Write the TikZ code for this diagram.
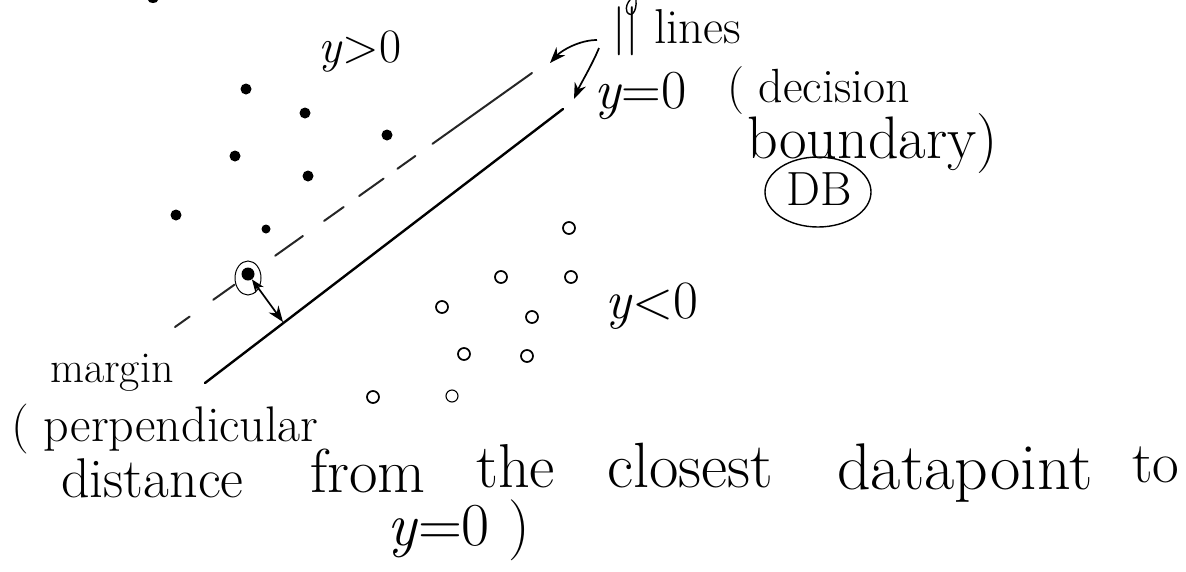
\documentclass[tikz,border=0pt]{standalone}
\usepackage{fontspec}
\usetikzlibrary{arrows.meta}
\begin{document}
\begin{tikzpicture}[x=1pt,y=-1pt,
  hand/.style={font=\fontsize{#1}{#1}\selectfont, inner sep=0pt, anchor=base west},
  hand/.default=50,
  posdot/.style={circle, fill=black, inner sep=0pt, minimum size=11pt},
  negdot/.style={ellipse, draw=black, line width=1.7pt, inner sep=0pt, minimum width=9pt, minimum height=12pt},
  boundary/.style={line width=2.4pt, line cap=round},
  marginline/.style={line width=2pt, black!85, line cap=round,
    dash pattern=on 18pt off 29pt on 26pt off 50pt on 34pt off 26pt on 24pt off 19pt on 30pt off 17pt on 22pt off 21pt on 124pt},
  pointer/.style={line width=1.7pt, -{Stealth[length=16pt,width=12pt]}},
  twoway/.style={line width=1.7pt, {Stealth[length=13pt,width=10pt]}-{Stealth[length=16pt,width=12pt]}}
]
\useasboundingbox (0,0) rectangle (1186,571);
\pgfdeclareshape{ellipse}{\inheritsavedanchors[from=circle]\inheritanchorborder[from=circle]\inheritanchor[from=circle]{center}\inheritbackgroundpath[from=circle]}

% cut-off strokes at the top edge
\fill (153,0) ellipse [x radius=5pt, y radius=3pt];
\draw[line width=1.4pt] (636,0) .. controls (637,12) and (631,18) .. (627,12) .. controls (625,7) and (628,2) .. (630,0);

% lines
\coordinate (solidA) at (205,383);
\coordinate (solidB) at (563,109);
\coordinate (dashA) at (175,327);
\coordinate (dashB) at (532,73);
\draw[boundary] (solidA) -- (solidB);
\draw[marginline] (dashA) -- (dashB);

% positive points
\node[posdot] (p1) at (246,89) {};
\node[posdot] (p2) at (305,113) {};
\node[posdot] (p3) at (387,135) {};
\node[posdot] (p4) at (235,156) {};
\node[posdot] (p5) at (308,176) {};
\node[posdot] (p6) at (176,215) {};
\node[posdot, minimum size=9pt] (p7) at (266,229) {};

% closest point
\node[posdot, minimum size=13pt] (cp) at (248,274) {};
\draw[line width=1pt] (248,278) ellipse [x radius=13pt, y radius=17pt];
\coordinate (foot) at (283,322);
\draw[twoway] (cp) -- (foot);

% negative points
\node[negdot] (n1) at (569,228) {};
\node[negdot] (n2) at (501,277) {};
\node[negdot] (n3) at (571,277) {};
\node[negdot] (n4) at (442,307) {};
\node[negdot] (n5) at (532,317) {};
\node[negdot] (n6) at (464,354) {};
\node[negdot] (n7) at (527,356) {};
\node[negdot] (n8) at (373,397) {};
\node[negdot, line width=1.1pt] (n9) at (452,396) {};

% labels
\node[hand=48] (ypos) at (318,62) {\textit{y}>0};
\node[hand=49] (ll) at (612,43) {|| lines};
\node[hand=55] (yz) at (594,108) {\textit{y}=0};
\node[hand=48] (dec) at (727,102) {( decision};
\node[hand=60] (bnd) at (747,158) {boundary)};
\node[font=\fontsize{48}{48}\selectfont, inner sep=0pt] (db) at (819,189) {DB};
\draw[line width=1.4pt] (818,192) ellipse [x radius=53pt, y radius=35pt];
\node[hand=54] (yneg) at (605,318) {\textit{y}<0};
\node[hand=44] (marg) at (50,382) {margin};
\node[hand=50] (perp) at (11,441) {( perpendicular};
\node[hand=56] (dist) at (61,497) {distance};
\node[hand=62] (from) at (310,492) {from};
\node[hand=62] (the) at (476,487) {the};
\node[hand=64] (clo) at (607,487) {closest};
\node[hand=66] (dat) at (837,489) {datapoint};
\node[hand=58] (to) at (1132,482) {to};
\node[hand=61] (y0b) at (387,545) {\textit{y}=0 )};

% pointers from the label to the two lines
\coordinate (s1) at (597,40);
\coordinate (tip1) at (550,63);
\coordinate (s2) at (599,48);
\coordinate (tip2) at (574,99);
\draw[pointer] (s1) .. controls (580,40) and (562,50) .. (tip1);
\draw[pointer] (s2) .. controls (592,65) and (580,85) .. (tip2);
\end{tikzpicture}
\end{document}
